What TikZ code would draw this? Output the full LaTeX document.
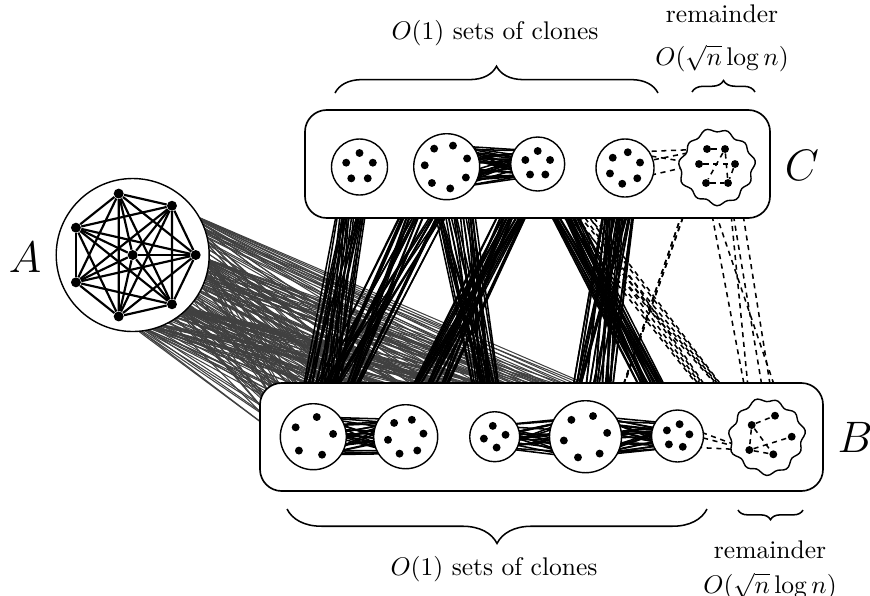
\documentclass[tikz,border=0pt]{standalone}
\usetikzlibrary{decorations.pathreplacing}
\pgfdeclarelayer{graylayer}
\pgfdeclarelayer{crosslayer}
\pgfdeclarelayer{boxlayer}
\pgfdeclarelayer{innerlayer}
\pgfdeclarelayer{circlayer}
\pgfdeclarelayer{blobedgelayer}
\pgfsetlayers{graylayer,crosslayer,boxlayer,innerlayer,circlayer,blobedgelayer,main}

\tikzset{
  dot/.style={circle, fill=black, inner sep=0pt, minimum size=3.1pt},
  bigdot/.style={circle, fill=black, inner sep=0pt, minimum size=3.9pt},
  clu/.style={circle, draw, fill=white, line width=0.55pt, inner sep=0pt},
  box/.style={draw, fill=white, rounded corners=8.5pt, line width=0.65pt, inner sep=0pt},
  grayedge/.style={draw=black!75, line width=0.4pt},
  solidedge/.style={line width=0.6pt},
  remedge/.style={line width=0.6pt, dash pattern=on 2pt off 1.8pt},
  kedge/.style={line width=0.85pt},
  bracestyle/.style={decorate, line width=0.6pt},
  lbl/.style={inner sep=0pt},
}

\newcommand\mkcluster[7]{%
  \begin{pgfonlayer}{circlayer}
    \node[clu, minimum size={2*#4*0.392pt}] (#1) at (#2,#3) {};
  \end{pgfonlayer}
  \foreach \k in {1,...,#5} {
    \node[dot] (#1-\k) at ({#2+#6*cos(#7+(\k-1)*360/#5)},{#3-#6*sin(#7+(\k-1)*360/#5)}) {};
  }%
}
\newcommand\bip[5]{\foreach \i in {1,...,#3}{\foreach \j in {1,...,#5}{\draw[#1] (#2-\i) -- (#4-\j);}}}
\newcommand\mkblob[4]{%
  \coordinate (#1) at (#2,#3);
  \begin{pgfonlayer}{circlayer}
  \draw[line width=0.55pt, fill=white] plot[smooth cycle, samples=80, domain=0:355.5, variable=\t]
    ({#2+(#4+1.8*sin(11*\t)+1.2*sin(4*\t+50))*cos(\t)},{#3-(#4+1.8*sin(11*\t)+1.2*sin(4*\t+50))*sin(\t)});
  \end{pgfonlayer}
}

\begin{document}
\begin{tikzpicture}[x=0.392pt, y=-0.392pt]
\useasboundingbox (0,0) rectangle (870,595);

% boxes
\begin{pgfonlayer}{boxlayer}
  \node[box, minimum width={465*0.392pt}, minimum height={108*0.392pt}] (Cbox) at (537.5,164) {};
  \node[box, minimum width={563*0.392pt}, minimum height={108*0.392pt}] (Bbox) at (541.5,437) {};
  \node[clu, minimum size={2*76.5*0.392pt}] (Acirc) at (132.7,255) {};
\end{pgfonlayer}

% A : K8
\foreach \k in {1,...,7} {
  \node[bigdot] (A-\k) at ({132.7+63*cos((\k-1)*360/7)},{255-63*sin((\k-1)*360/7)}) {};
}
\node[bigdot] (A-8) at (132.7,255) {};

% C clusters
\mkcluster{C1}{359.5}{167}{28}{5}{14}{90}
\mkcluster{C2}{446.7}{166.7}{33}{7}{22}{22}
\mkcluster{C3}{537.7}{164}{27}{5}{13}{90}
\mkcluster{C4}{625}{168}{29}{6}{16}{20}
\mkblob{CR}{716.7}{167}{36}
\node[dot] (CR-1) at (707,149) {};
\node[dot] (CR-2) at (725,149) {};
\node[dot] (CR-3) at (699,164) {};
\node[dot] (CR-4) at (735,164) {};
\node[dot] (CR-5) at (706,183) {};
\node[dot] (CR-6) at (728,183) {};

% B clusters
\mkcluster{B1}{313.3}{436.7}{33}{5}{20}{8}
\mkcluster{B2}{405.7}{436.7}{32}{6}{18}{10}
\mkcluster{B3}{494.7}{436.7}{25}{4}{11}{10}
\mkcluster{B4}{585.5}{436.7}{36}{6}{22}{10}
\mkcluster{B5}{677.5}{436}{26}{5}{12}{8}
\mkblob{BR}{766.7}{436.7}{36}
\node[dot] (BR-1) at (775,415.7) {};
\node[dot] (BR-2) at (751.7,425) {};
\node[dot] (BR-3) at (791.7,436.7) {};
\node[dot] (BR-4) at (749.3,450) {};
\node[dot] (BR-5) at (773.3,454.3) {};

% A -> B gray edges
\begin{pgfonlayer}{graylayer}
  \foreach \cl/\nn in {B1/5,B2/6,B3/4,B4/6,B5/5} {
    \foreach \i in {1,...,8} {
      \foreach \j in {1,...,\nn} { \draw[grayedge] (A-\i) -- (\cl-\j); }
    }
  }
\end{pgfonlayer}

% C -> B edges
\begin{pgfonlayer}{crosslayer}
  \bip{solidedge}{C1}{5}{B1}{5}
  \bip{solidedge}{C2}{7}{B1}{5}
  \bip{solidedge}{C2}{7}{B3}{4}
  \bip{solidedge}{C3}{5}{B2}{6}
  \bip{solidedge}{C3}{5}{B5}{5}
  \bip{solidedge}{C4}{6}{B4}{6}
  \foreach \i in {1,...,5} { \draw[remedge] (C3-\i) -- (BR-2); \draw[remedge] (C3-\i) -- (BR-4); }
  \draw[remedge] (CR-1) -- (B4-1);
  \draw[remedge] (CR-3) -- (B4-1);
  \draw[remedge] (CR-1) -- (B4-6);
  \draw[remedge] (CR-3) -- (B4-6);
  \draw[remedge] (CR-5) -- (BR-2);
  \draw[remedge] (CR-3) -- (BR-3);
  \draw[remedge] (CR-4) -- (BR-1);
  \draw[remedge] (CR-6) -- (BR-2);
  \draw[remedge] (CR-6) -- (BR-5);
\end{pgfonlayer}

% edges inside boxes and inside A
\begin{pgfonlayer}{innerlayer}
  \bip{solidedge}{C2}{7}{C3}{5}
  \bip{solidedge}{B1}{5}{B2}{6}
  \bip{solidedge}{B3}{4}{B4}{6}
  \bip{solidedge}{B4}{6}{B5}{5}
  \draw[remedge] (C4-2) -- (CR-1);
  \draw[remedge] (C4-1) -- (CR-1);
  \draw[remedge] (C4-6) -- (CR-3);
  \draw[remedge] (C4-2) -- (CR-3);
  \draw[remedge] (B5-1) -- (BR-4);
  \draw[remedge] (B5-2) -- (BR-4);
  \draw[remedge] (B5-5) -- (BR-4);
  \foreach \i in {1,...,8} {
    \foreach \j in {1,...,8} {
      \ifnum\i<\j \draw[kedge] (A-\i) -- (A-\j); \fi
    }
  }
\end{pgfonlayer}

% edges inside remainders
\begin{pgfonlayer}{blobedgelayer}
  \draw[remedge] (CR-1) -- (CR-2);
  \draw[remedge] (CR-3) -- (CR-4);
  \draw[remedge] (CR-5) -- (CR-6);
  \draw[remedge] (CR-2) -- (CR-6);
  \draw[remedge] (CR-4) -- (CR-6);
  \draw[remedge] (CR-2) -- (CR-5);
  \draw[remedge] (BR-2) -- (BR-1);
  \draw[remedge] (BR-2) -- (BR-4);
  \draw[remedge] (BR-2) -- (BR-5);
  \draw[remedge] (BR-4) -- (BR-3);
  \draw[remedge] (BR-4) -- (BR-5);
\end{pgfonlayer}

% braces
\draw[bracestyle, decoration={brace, amplitude=10.5pt}] (335,93) -- (658,93);
\draw[bracestyle, decoration={brace, amplitude=4.5pt}] (692,92) -- (755,92);
\draw[bracestyle, decoration={brace, amplitude=13.5pt}] (707,509) -- (287,509);
\draw[bracestyle, decoration={brace, amplitude=3.8pt}] (803,510) -- (738,510);

% labels
\node[lbl] (t1) at (495,33.5) {$O(1)$ sets of clones};
\node[lbl] (t2) at (722,14) {remainder};
\node[lbl] (t3) at (722,58) {$O(\sqrt{n}\log n)$};
\node[lbl] (b1) at (494,569) {$O(1)$ sets of clones};
\node[lbl] (b2) at (770,550) {remainder};
\node[lbl] (b3) at (770,586) {$O(\sqrt{n}\log n)$};
\node (lA) at (25,257) {\LARGE $A$};
\node (lB) at (855,437.5) {\LARGE $B$};
\node (lC) at (802,165) {\LARGE $C$};
\end{tikzpicture}
\end{document}
